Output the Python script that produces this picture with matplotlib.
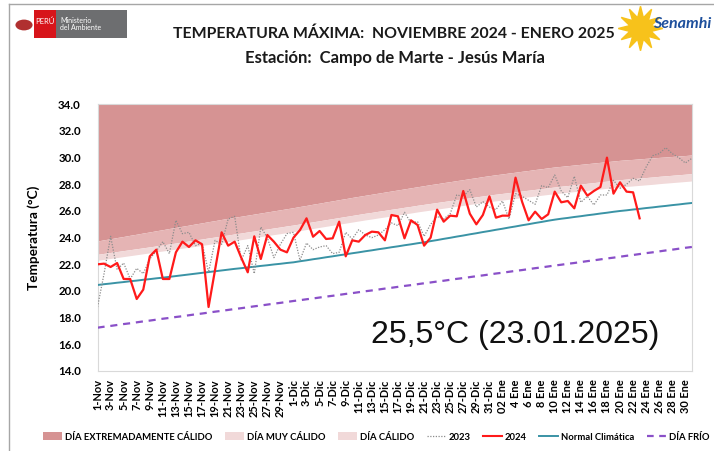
import matplotlib
matplotlib.use("Agg")
import matplotlib.pyplot as plt
from matplotlib.patches import Patch, Rectangle
from matplotlib.lines import Line2D
import numpy as np

# ---------------- data ----------------
# x tick labels (every second day, Nov 1 2024 .. Jan 30 2025)
tick_labels = ([f"{d}-Nov" for d in range(1, 30, 2)] +
               [f"{d}-Dic" for d in range(1, 32, 2)] +
               ["02 Ene"] + [f"{d} Ene" for d in range(4, 31, 2)])

t2023 = [18.8, 21.3, 24.1, 21.6, 22.1, 20.9, 21.7, 21.3, 22.4, 23.0,
         23.7, 22.8, 25.3, 24.3, 24.4, 23.4, 23.6, 21.4, 23.8, 23.5,
         25.4, 25.6, 22.3, 23.4, 21.3, 24.8, 24.0, 22.5, 23.5, 24.3,
         24.4, 22.3, 23.6, 23.1, 23.3, 23.4, 22.8, 22.9, 24.4, 23.9,
         24.6, 24.2, 24.0, 24.2, 24.6, 25.1, 24.9, 25.9, 25.1, 25.2,
         24.1, 25.0, 25.6, 25.4, 25.8, 27.2, 27.1, 27.6, 26.3, 26.7,
         26.3, 26.1, 26.75, 25.4, 27.3, 27.1, 26.8, 26.5, 27.9, 27.75,
         28.7, 27.5, 27.0, 28.6, 26.65, 27.1, 26.45, 27.2, 27.2, 28.3,
         27.7, 28.0, 28.45, 28.25, 29.3, 30.15, 30.3, 30.75, 30.3, 30.0,
         29.6, 29.95]

t2024 = [22.0, 22.05, 21.8, 22.1, 20.9, 20.9, 19.4, 20.1, 22.6, 23.1,
         20.9, 20.9, 22.9, 23.7, 23.3, 23.8, 23.5, 18.8, 21.6, 24.4,
         23.4, 23.7, 22.5, 21.4, 24.1, 22.4, 24.2, 23.7, 23.1, 22.9,
         24.0, 24.57, 25.45, 24.07, 24.5, 23.9, 23.95, 25.2, 22.6, 23.8,
         23.7, 24.2, 24.45, 24.4, 23.8, 25.7, 25.6, 23.95, 25.3, 24.95,
         23.4, 24.0, 26.1, 25.2, 25.65, 25.6, 27.5, 25.8, 25.0, 25.7,
         27.1, 25.5, 25.65, 25.65, 28.5, 26.7, 25.3, 25.95, 25.4, 25.75,
         27.45, 26.65, 26.75, 26.2, 27.9, 27.15, 27.5, 27.8, 30.0, 27.3,
         28.15, 27.45, 27.4, 25.45]

# threshold: extremely hot (lower bound)
extremo = [23.75, 23.84, 23.92, 24.01, 24.09, 24.18, 24.26, 24.35, 24.43, 24.52,
           24.60, 24.69, 24.77, 24.86, 24.94, 25.03, 25.11, 25.20, 25.28, 25.37,
           25.45, 25.53, 25.61, 25.69, 25.77, 25.85, 25.93, 26.01, 26.09, 26.17,
           26.25, 26.34, 26.42, 26.51, 26.59, 26.68, 26.76, 26.85, 26.93, 27.02,
           27.10, 27.18, 27.26, 27.34, 27.42, 27.50, 27.58, 27.66, 27.74, 27.82,
           27.90, 27.98, 28.05, 28.13, 28.20, 28.28, 28.35, 28.43, 28.50, 28.58,
           28.65, 28.72, 28.78, 28.85, 28.91, 28.98, 29.04, 29.11, 29.17, 29.24,
           29.30, 29.35, 29.40, 29.45, 29.50, 29.55, 29.60, 29.65, 29.70, 29.75,
           29.80, 29.84, 29.87, 29.91, 29.95, 29.98, 30.02, 30.05, 30.09, 30.13,
           30.16, 30.20]

# threshold: very hot (lower bound)
muy_calido = [22.75, 22.82, 22.89, 22.96, 23.03, 23.10, 23.17, 23.24, 23.31, 23.38,
              23.45, 23.53, 23.60, 23.68, 23.75, 23.83, 23.90, 23.98, 24.05, 24.13,
              24.20, 24.28, 24.35, 24.43, 24.50, 24.58, 24.65, 24.73, 24.80, 24.88,
              24.95, 25.03, 25.11, 25.19, 25.27, 25.35, 25.43, 25.51, 25.59, 25.67,
              25.75, 25.83, 25.90, 25.98, 26.05, 26.13, 26.20, 26.28, 26.35, 26.43,
              26.50, 26.57, 26.64, 26.71, 26.78, 26.85, 26.92, 26.99, 27.06, 27.13,
              27.20, 27.26, 27.32, 27.38, 27.44, 27.50, 27.56, 27.62, 27.68, 27.74,
              27.80, 27.86, 27.91, 27.97, 28.02, 28.08, 28.13, 28.19, 28.24, 28.30,
              28.35, 28.39, 28.43, 28.47, 28.51, 28.55, 28.60, 28.64, 28.68, 28.72,
              28.76, 28.80]

# threshold: hot (lower bound)
calido = [22.30, 22.37, 22.44, 22.51, 22.58, 22.65, 22.72, 22.79, 22.86, 22.93,
          23.00, 23.07, 23.14, 23.21, 23.28, 23.35, 23.42, 23.49, 23.56, 23.63,
          23.70, 23.78, 23.85, 23.93, 24.00, 24.08, 24.15, 24.23, 24.30, 24.38,
          24.45, 24.53, 24.61, 24.69, 24.77, 24.85, 24.93, 25.01, 25.09, 25.17,
          25.25, 25.33, 25.40, 25.48, 25.55, 25.63, 25.70, 25.78, 25.85, 25.93,
          26.00, 26.07, 26.14, 26.21, 26.28, 26.35, 26.42, 26.49, 26.56, 26.63,
          26.70, 26.76, 26.82, 26.88, 26.94, 27.00, 27.06, 27.12, 27.18, 27.24,
          27.30, 27.35, 27.40, 27.45, 27.50, 27.55, 27.60, 27.65, 27.70, 27.75,
          27.80, 27.84, 27.88, 27.92, 27.96, 28.00, 28.05, 28.09, 28.13, 28.17,
          28.21, 28.25]

normal = [20.45, 20.51, 20.56, 20.62, 20.67, 20.73, 20.78, 20.84, 20.89, 20.95,
          21.00, 21.06, 21.12, 21.18, 21.24, 21.30, 21.36, 21.42, 21.48, 21.54,
          21.60, 21.66, 21.71, 21.77, 21.82, 21.88, 21.93, 21.99, 22.04, 22.10,
          22.15, 22.23, 22.30, 22.38, 22.45, 22.53, 22.60, 22.68, 22.75, 22.83,
          22.90, 22.98, 23.05, 23.13, 23.20, 23.28, 23.35, 23.43, 23.50, 23.58,
          23.65, 23.74, 23.82, 23.91, 23.99, 24.08, 24.16, 24.25, 24.33, 24.42,
          24.50, 24.59, 24.67, 24.76, 24.84, 24.93, 25.01, 25.10, 25.18, 25.27,
          25.35, 25.42, 25.48, 25.55, 25.61, 25.68, 25.74, 25.81, 25.87, 25.94,
          26.00, 26.05, 26.11, 26.16, 26.22, 26.27, 26.33, 26.38, 26.44, 26.49,
          26.55, 26.60]

frio = [17.25, 17.32, 17.38, 17.45, 17.52, 17.58, 17.65, 17.72, 17.78, 17.85,
        17.92, 17.98, 18.05, 18.11, 18.18, 18.25, 18.31, 18.38, 18.45, 18.51,
        18.58, 18.65, 18.71, 18.78, 18.85, 18.91, 18.98, 19.05, 19.11, 19.18,
        19.25, 19.31, 19.38, 19.44, 19.51, 19.58, 19.64, 19.71, 19.78, 19.84,
        19.91, 19.98, 20.04, 20.11, 20.18, 20.24, 20.31, 20.38, 20.44, 20.51,
        20.58, 20.64, 20.71, 20.77, 20.84, 20.91, 20.97, 21.04, 21.11, 21.17,
        21.24, 21.31, 21.37, 21.44, 21.51, 21.57, 21.64, 21.71, 21.77, 21.84,
        21.91, 21.97, 22.04, 22.10, 22.17, 22.24, 22.30, 22.37, 22.44, 22.50,
        22.57, 22.64, 22.70, 22.77, 22.84, 22.90, 22.97, 23.04, 23.10, 23.17,
        23.24, 23.30]

y_top = 34.0
y_bottom = 14.0

# ---------------- styling ----------------
C_EXT = "#d69393"
C_MUY = "#e5b4b4"
C_CAL = "#f1d9d9"
C_RED = "#ff1a1a"
C_TEAL = "#3a93a5"
C_PURP = "#8a50c8"
C_GREY = "#8c8c8c"
FONT = ["Lato", "DejaVu Sans"]

fig = plt.figure(figsize=(7.14, 4.51), dpi=100)
ax = fig.add_axes([0.1366, 0.1774, 0.8324, 0.5913])

n = len(extremo)
x = np.arange(n)
ax.fill_between(x, extremo, y_top, color=C_EXT, lw=0, zorder=1)
ax.fill_between(x, muy_calido, extremo, color=C_MUY, lw=0, zorder=1)
ax.fill_between(x, calido, muy_calido, color=C_CAL, lw=0, zorder=1)

ax.plot(x, frio, color=C_PURP, lw=1.6, ls=(0, (3.2, 2.6)), zorder=3)
ax.plot(x, normal, color=C_TEAL, lw=1.4, zorder=3)
ax.plot(np.arange(len(t2023)), t2023, color=C_GREY, lw=0.9, ls=(0, (1, 1.2)), zorder=4)
ax.plot(np.arange(len(t2024)), t2024, color=C_RED, lw=1.6, zorder=5)

ax.set_xlim(0, n - 1)
ax.set_ylim(y_bottom, y_top)
ax.set_yticks(np.arange(14, 34.1, 2))
ax.set_yticklabels([f"{v:.1f}" for v in np.arange(14, 34.1, 2)],
                   fontfamily=FONT, fontweight="bold", fontsize=8.3)
ax.set_xticks(np.arange(0, n, 2))
ax.set_xticklabels(tick_labels, rotation=90, fontfamily=FONT,
                   fontweight="bold", fontsize=7.9)
ax.tick_params(axis="both", length=0, pad=6)
ax.tick_params(axis="y", pad=12)
for s in ax.spines.values():
    s.set_color("#d9d9d9")
    s.set_linewidth(0.8)

ax.set_ylabel("Temperatura (°C)", fontfamily=FONT, fontweight="bold",
              fontsize=9.8, labelpad=13)

ax.text(0.702, 0.135, "25,5°C (23.01.2025)", transform=ax.transAxes,
        ha="center", va="center", fontsize=23, fontfamily="Liberation Sans",
        color="#111111", zorder=6)

# titles
fig.text(0.552, 0.925, "TEMPERATURA MÁXIMA:  NOVIEMBRE 2024 - ENERO 2025",
         ha="center", va="center", fontsize=11.4, fontfamily=FONT,
         fontweight="bold", color="#1a1a1a")
fig.text(0.553, 0.871, "Estación:  Campo de Marte - Jesús María",
         ha="center", va="center", fontsize=12, fontfamily=FONT,
         fontweight="bold", color="#1a1a1a")

# page frame lines
fig.add_artist(Line2D([9 / 714, 9 / 714], [0, 1 - 4 / 451], color="#a6a6a6", lw=1.0))
fig.add_artist(Line2D([9 / 714, 1], [1 - 4 / 451, 1 - 4 / 451], color="#a6a6a6", lw=1.0))

# left logo (approximation)
W, H = 714, 451
def box(x0, y0, w, h, color):
    fig.add_artist(Rectangle((x0 / W, 1 - (y0 + h) / H), w / W, h / H,
                             transform=fig.transFigure, color=color, lw=0))
fig.add_artist(plt.Circle((24 / W, 1 - 25 / H), 0.012, transform=fig.transFigure,
                          color="#b03030", lw=0))
box(34, 10, 22, 28, "#d7141a")
box(56, 10, 71, 28, "#6d6e70")
fig.text(45 / W, 1 - 21 / H, "PERÚ", color="white", fontsize=5.5, ha="center",
         va="center", fontfamily=FONT)
fig.text(60 / W, 1 - 24 / H, "Ministerio\ndel Ambiente", color="white", fontsize=5,
         ha="left", va="center", fontfamily=FONT, linespacing=1.0)

# right logo (approximation)
fig.add_artist(Line2D([640 / W], [1 - 28 / H], marker=(12, 1, 0), markersize=32,
                      color="#f7c21b", transform=fig.transFigure, lw=0))
fig.text(682 / W, 1 - 24 / H, "Senamhi", color="#1d4f9c", fontsize=11.5,
         ha="center", va="center", fontfamily=FONT, fontweight="bold",
         fontstyle="italic")

# legend
handles = [Patch(facecolor=C_EXT, edgecolor="none"),
           Patch(facecolor=C_CAL, edgecolor="none"),
           Patch(facecolor=C_CAL, edgecolor="none"),
           Line2D([], [], color=C_GREY, lw=0.9, ls=(0, (1, 1.2))),
           Line2D([], [], color=C_RED, lw=1.5),
           Line2D([], [], color=C_TEAL, lw=1.4),
           Line2D([], [], color=C_PURP, lw=1.6, ls=(0, (3, 2.5)))]
labels = ["DÍA EXTREMADAMENTE CÁLIDO", "DÍA MUY CÁLIDO", "DÍA CÁLIDO",
          "2023", "2024", "Normal Climática", "DÍA FRÍO"]
fig.legend(handles, labels, loc="center", bbox_to_anchor=(0.527, 0.031),
           ncol=7, frameon=False, prop={"family": FONT, "weight": "bold", "size": 6.8},
           handlelength=2.0, handleheight=0.9, handletextpad=0.3,
           columnspacing=1.35)

fig.savefig("out.png", dpi=100)
